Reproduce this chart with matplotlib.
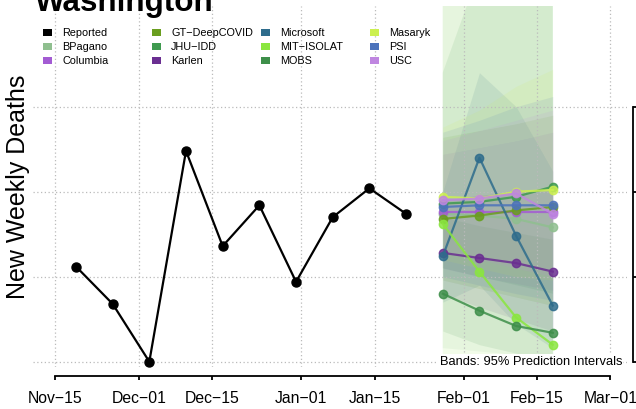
import matplotlib
matplotlib.use("Agg")
import matplotlib.pyplot as plt
import matplotlib.dates as mdates
from matplotlib.patches import Rectangle
import datetime as dt

plt.rcParams['font.family'] = ['Liberation Sans', 'DejaVu Sans']

# reported weekly deaths
reported_dates = [dt.date(2020, 11, 19) + dt.timedelta(days=7 * i) for i in range(10)]
reported_vals = [206, 184, 150, 274, 218, 242, 197, 235, 252, 237]

# forecasts
fc_dates = [dt.date(2021, 1, 28), dt.date(2021, 2, 4), dt.date(2021, 2, 11), dt.date(2021, 2, 18)]

models = ['BPagano', 'Columbia', 'GT\u2212DeepCOVID', 'JHU\u2212IDD', 'Karlen', 'Microsoft',
          'MIT\u2212ISOLAT', 'MOBS', 'Masaryk', 'PSI', 'USC']
colors = ['#8FBF8F', '#A35BD3', '#6A9E1F', '#3F9A4F', '#6A2E91', '#2E6C8C',
          '#8AE63F', '#3E8F4A', '#CCF050', '#4C73BB', '#BF86E0']

point_fc = [
    [237, 236, 234, 229],
    [238, 238, 238, 238],
    [234, 236, 239, 241],
    [243, 244, 247, 253],
    [214, 211, 208, 203],
    [212, 270, 224, 183],
    [231, 203, 176, 160],
    [190, 180, 171, 167],
    [247, 246, 250, 251],
    [241, 242, 242, 242],
    [245, 246, 249, 237],
]
lower_fc = [
    [158, 156, 154, 152],
    [205, 200, 196, 192],
    [198, 193, 188, 183],
    [205, 200, 195, 190],
    [190, 182, 175, 168],
    [185, 195, 172, 158],
    [152, 151, 150, 150],
    [168, 160, 155, 150],
    [210, 205, 200, 198],
    [200, 195, 190, 186],
    [215, 210, 205, 200],
]
upper_fc = [
    [400, 420, 440, 460],
    [272, 276, 280, 285],
    [282, 286, 290, 295],
    [320, 380, 420, 460],
    [245, 248, 250, 252],
    [250, 320, 300, 262],
    [480, 490, 500, 510],
    [235, 230, 226, 222],
    [288, 298, 312, 322],
    [285, 292, 300, 306],
    [280, 286, 292, 298],
]

x_ticks = [dt.date(2020, 11, 15), dt.date(2020, 12, 1), dt.date(2020, 12, 15), dt.date(2021, 1, 1),
           dt.date(2021, 1, 15), dt.date(2021, 2, 1), dt.date(2021, 2, 15), dt.date(2021, 3, 1)]
x_labels = ['Nov\u221215', 'Dec\u221201', 'Dec\u221215', 'Jan\u221201', 'Jan\u221215',
            'Feb\u221201', 'Feb\u221215', 'Mar\u221201']
y_ticks = [150, 200, 250, 300]

W, H = 636, 410
fig = plt.figure(figsize=(W / 100, H / 100), dpi=100)
ax = fig.add_axes([33 / W, 1 - 368 / H, (627 - 33) / W, (368 - 7) / H])

d0 = mdates.date2num(dt.date(2020, 11, 15))
ax.set_xlim(d0 + (33 - 55) / 5.24, d0 + (627 - 55) / 5.24)
ax.set_ylim(150 - 5.3 / 1.7, 150 + 355.7 / 1.7)

# grid (drawn over the bands, under the lines)
for xt in x_ticks:
    ax.axvline(mdates.date2num(xt), color='#BBBBBB', lw=0.9, ls=(0, (1, 2)), zorder=2)
for yt in y_ticks:
    ax.axhline(yt, color='#BBBBBB', lw=0.9, ls=(0, (1, 2)), zorder=2)

# prediction bands
for lo, hi, c in zip(lower_fc, upper_fc, colors):
    ax.fill_between(fc_dates, lo, hi, color=c, alpha=0.11, lw=0, zorder=1)

# forecast lines
for vals, c in zip(point_fc, colors):
    ax.plot(fc_dates, vals, color=c, lw=1.6, marker='o', ms=6, alpha=0.85, zorder=3)

ax.plot(reported_dates, reported_vals, color='black', lw=1.6, marker='o', ms=6.5, zorder=4)

# axes styling
for s in ['top', 'left']:
    ax.spines[s].set_visible(False)
ax.spines['bottom'].set_position(('outward', 6.5))
ax.spines['right'].set_position(('outward', 4.3))
ax.spines['bottom'].set_bounds(mdates.date2num(x_ticks[0]), mdates.date2num(x_ticks[-1]))
ax.spines['right'].set_bounds(150, 300)
ax.spines['bottom'].set_linewidth(1.3)
ax.spines['right'].set_linewidth(1.3)
ax.set_xticks([mdates.date2num(x) for x in x_ticks])
ax.set_xticklabels(x_labels, fontsize=11.3)
ax.yaxis.tick_right()
ax.set_yticks(y_ticks)
ax.tick_params(axis='y', labelright=False)
ax.tick_params(axis='both', length=3, width=1.3, pad=7)

# title, label, note
fig.text(35 / W, 1 - 11 / H, 'Washington', fontsize=22.6, fontweight='bold', va='baseline', ha='left')
fig.text(18 / W, 1 - 187 / H, 'New Weekly Deaths', fontsize=18, rotation=90, va='center', ha='center')
fig.text(622 / W, 1 - 362 / H, 'Bands: 95% Prediction Intervals', fontsize=9.3, ha='right', va='center',
         bbox=dict(facecolor='white', edgecolor='none', pad=1))

# legend
leg_names = ['Reported'] + models
leg_colors = ['black'] + colors
for i, (name, c) in enumerate(zip(leg_names, leg_colors)):
    col, row = i // 3, i % 3
    cx = 43 + 109 * col
    cy = 33 + 14 * row
    fig.add_artist(Rectangle((cx / W, 1 - (cy + 3.5) / H), 9 / W, 7 / H, facecolor=c, edgecolor='none',
                             transform=fig.transFigure))
    fig.text((62 + 109 * col) / W, 1 - cy / H, name, fontsize=7.8, va='center', ha='left')

fig.savefig('out.png', dpi=100)
